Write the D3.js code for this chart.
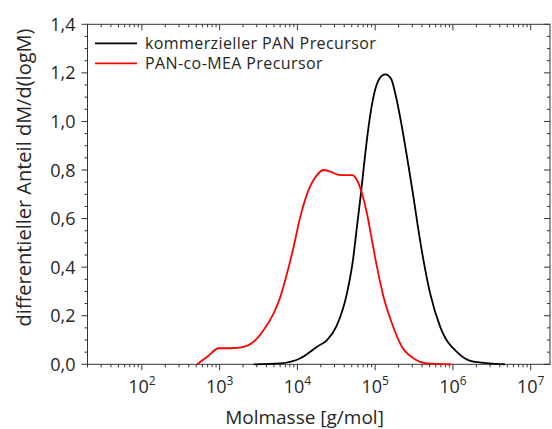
<!DOCTYPE html>
<html>
  <head>
    <meta charset="utf-8" />
    <title>Molmassenverteilung</title>
    <script src="https://d3js.org/d3.v7.min.js" charset="utf-8"></script>
    <style>
      body {
        margin: 0;
        background: #fff;
      }
      svg {
        font-family: "Open Sans", "Noto Sans", sans-serif;
        fill: #262626;
      }
      .tick-label {
        font-size: 18px;
      }
      .axis-title {
        font-size: 19px;
      }
      .legend text {
        font-size: 16px;
        letter-spacing: 0.4px;
      }
    </style>
  </head>
  <body>
    <svg></svg>
    <script>
      // kommerzieller PAN Precursor (M in g/mol, dM/d(logM))
      const panMass = [
        2742, 6040, 10910, 17860, 24030, 31620, 43350, 51800, 58300, 65660,
        73000, 82200, 97300, 112800, 134600, 160700, 181000, 220700, 260600,
        305700, 354300, 417600, 509000, 684000, 1175000, 1832000, 4677000,
      ];
      const panValue = [
        0, 0.004, 0.025, 0.072, 0.1, 0.155, 0.292, 0.429, 0.567, 0.704, 0.841,
        0.978, 1.116, 1.175, 1.194, 1.175, 1.116, 0.978, 0.841, 0.704, 0.567,
        0.429, 0.292, 0.155, 0.045, 0.011, 0,
      ];

      // PAN-co-MEA Precursor
      const meaMass = [
        514, 692, 975, 1377, 2041, 2742, 3684, 4950, 6040, 7364, 8950, 10910,
        13940, 17860, 21720, 26490, 35580, 50310, 58350, 67610, 78340, 90800,
        105300, 128000, 164000, 220700, 310600, 462000, 949000,
      ];
      const meaValue = [
        0, 0.031, 0.066, 0.066, 0.072, 0.093, 0.141, 0.21, 0.278, 0.375, 0.484,
        0.608, 0.718, 0.779, 0.8, 0.793, 0.779, 0.779, 0.759, 0.704, 0.622,
        0.512, 0.402, 0.278, 0.169, 0.072, 0.025, 0.004, 0,
      ];

      const seriesNames = ["kommerzieller PAN Precursor", "PAN-co-MEA Precursor"];
      const seriesColors = ["#000000", "#ff0000"];
      const yTicks = [0, 0.2, 0.4, 0.6, 0.8, 1.0, 1.2, 1.4];
      const xDecades = [2, 3, 4, 5, 6, 7];

      const W = 552;
      const H = 429;
      const margin = { top: 24.3, bottom: 64.7, left: 87.5, right: 2 };

      const svg = d3.select("svg").attr("width", W).attr("height", H);

      const x = d3
        .scaleLog()
        .domain([20, 1.77e7])
        .range([margin.left, W - margin.right]);
      const y = d3
        .scaleLinear()
        .domain([0, 1.4])
        .range([H - margin.bottom, margin.top]);

      const x0 = margin.left;
      const x1 = W - margin.right;
      const y0 = H - margin.bottom;
      const y1 = margin.top;

      // minor/major tick values
      const xMinor = [];
      for (let e = 1; e <= 7; e++) {
        for (let m = 2; m <= 9; m++) {
          const v = m * Math.pow(10, e);
          if (v >= 20 && v <= 1.77e7) xMinor.push(v);
        }
      }
      const xMajor = xDecades.map((e) => Math.pow(10, e));
      const yMinor = d3.range(0, 1.4001, 0.05).filter((v) => Math.abs(v * 5 - Math.round(v * 5)) > 1e-6);

      const axisG = svg.append("g").attr("stroke", "#333").attr("stroke-width", 1);

      // bottom ticks (outward)
      axisG.selectAll(".xb-min").data(xMinor).enter().append("line")
        .attr("x1", (d) => x(d)).attr("x2", (d) => x(d))
        .attr("y1", y0).attr("y2", y0 + 3);
      axisG.selectAll(".xb-maj").data(xMajor).enter().append("line")
        .attr("x1", (d) => x(d)).attr("x2", (d) => x(d))
        .attr("y1", y0).attr("y2", y0 + 6);
      // top ticks (inward)
      axisG.selectAll(".xt-min").data(xMinor).enter().append("line")
        .attr("x1", (d) => x(d)).attr("x2", (d) => x(d))
        .attr("y1", y1).attr("y2", y1 + 3);
      axisG.selectAll(".xt-maj").data(xMajor).enter().append("line")
        .attr("x1", (d) => x(d)).attr("x2", (d) => x(d))
        .attr("y1", y1).attr("y2", y1 + 6);
      // left ticks (outward)
      axisG.selectAll(".yl-min").data(yMinor).enter().append("line")
        .attr("x1", x0 - 3).attr("x2", x0)
        .attr("y1", (d) => y(d)).attr("y2", (d) => y(d));
      axisG.selectAll(".yl-maj").data(yTicks).enter().append("line")
        .attr("x1", x0 - 6).attr("x2", x0)
        .attr("y1", (d) => y(d)).attr("y2", (d) => y(d));
      // right ticks (inward)
      axisG.selectAll(".yr-min").data(yMinor).enter().append("line")
        .attr("x1", x1 - 3).attr("x2", x1)
        .attr("y1", (d) => y(d)).attr("y2", (d) => y(d));
      axisG.selectAll(".yr-maj").data(yTicks).enter().append("line")
        .attr("x1", x1 - 6).attr("x2", x1)
        .attr("y1", (d) => y(d)).attr("y2", (d) => y(d));

      // frame
      svg.append("rect")
        .attr("x", x0).attr("y", y1)
        .attr("width", x1 - x0).attr("height", y0 - y1)
        .attr("fill", "none").attr("stroke", "#333").attr("stroke-width", 1);

      // y tick labels
      const fmt = (v) => d3.format(".1f")(v).replace(".", ",");
      svg.selectAll(".ylab").data(yTicks).enter().append("text")
        .attr("class", "tick-label")
        .attr("x", x0 - 12)
        .attr("y", (d) => y(d) + 6.5)
        .attr("text-anchor", "end")
        .text(fmt);

      // x tick labels 10^n
      const xl = svg.selectAll(".xlab").data(xDecades).enter().append("text")
        .attr("class", "tick-label")
        .attr("x", (d) => x(Math.pow(10, d)))
        .attr("y", 393)
        .attr("text-anchor", "middle");
      xl.append("tspan").text("10");
      xl.append("tspan")
        .attr("dy", -8)
        .style("font-size", "12px")
        .text((d) => d);

      // axis titles
      svg.append("text")
        .attr("class", "axis-title")
        .attr("x", 304.5)
        .attr("y", 424)
        .attr("text-anchor", "middle")
        .text("Molmasse [g/mol]");

      svg.append("text")
        .attr("class", "axis-title")
        .attr("transform", "rotate(-90)")
        .attr("x", -177.5)
        .attr("y", 31)
        .attr("text-anchor", "middle")
        .style("font-size", "20px")
        .text("differentieller Anteil dM/d(logM)");

      // curves
      const line = d3
        .line()
        .x((d) => x(d[0]))
        .y((d) => y(d[1]))
        .curve(d3.curveMonotoneX);

      const series = [
        d3.zip(panMass, panValue),
        d3.zip(meaMass, meaValue),
      ];

      svg.append("g").selectAll("path").data(series).enter().append("path")
        .attr("fill", "none")
        .attr("stroke", (d, i) => seriesColors[i])
        .attr("stroke-width", 1.8)
        .attr("stroke-linejoin", "round")
        .attr("d", line);

      // legend
      const legend = svg.append("g").attr("class", "legend");
      seriesNames.forEach((name, i) => {
        const row = legend.append("g").attr("transform", `translate(95, ${43.3 + i * 20})`);
        row.append("line")
          .attr("x1", 0).attr("x2", 42)
          .attr("stroke", seriesColors[i]).attr("stroke-width", 1.8);
        row.append("text").attr("x", 50).attr("y", 6).text(name);
      });
    </script>
  </body>
</html>
